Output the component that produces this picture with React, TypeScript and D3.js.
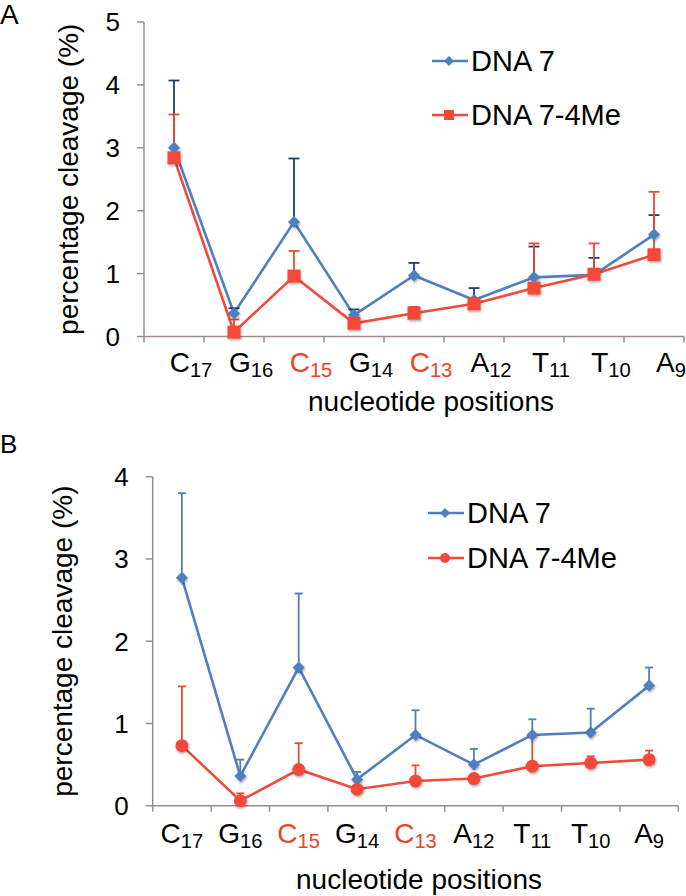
import React from 'react';
import * as d3 from 'd3';

// x categories: base letter + subscript position
const bases = ['C', 'G', 'C', 'G', 'C', 'A', 'T', 'T', 'A'];
const positions = ['17', '16', '15', '14', '13', '12', '11', '10', '9'];
const highlighted = ['15', '13'];

// panel A
const dna7A = [3.0, 0.37, 1.82, 0.34, 0.97, 0.58, 0.94, 0.98, 1.62];
const dna7ErrA = [1.07, 0.08, 1.01, 0.09, 0.2, 0.19, 0.49, 0.27, 0.31];
const dna74MeA = [2.84, 0.07, 0.96, 0.21, 0.37, 0.52, 0.77, 0.99, 1.3];
const dna74MeErrA = [0.69, 0.2, 0.4, 0.04, 0.1, 0.05, 0.71, 0.49, 1.0];
const ticksA = [0, 1, 2, 3, 4, 5];

// panel B
const dna7B = [2.77, 0.36, 1.68, 0.32, 0.86, 0.5, 0.86, 0.89, 1.46];
const dna7ErrB = [1.03, 0.2, 0.9, 0.09, 0.3, 0.19, 0.19, 0.29, 0.22];
const dna74MeB = [0.73, 0.06, 0.44, 0.2, 0.3, 0.33, 0.48, 0.52, 0.56];
const dna74MeErrB = [0.72, 0.09, 0.32, 0.03, 0.19, 0.04, 0.36, 0.08, 0.11];
const ticksB = [0, 1, 2, 3, 4];

const seriesNames = ['DNA 7', 'DNA 7-4Me'];

const BLUE = '#4f7fc0';
const RED = '#f24a3a';
const NAVY = '#1f3c78';
const AXIS = '#9a8c8a';
const FONT = '"Liberation Sans", Arial, Helvetica, sans-serif';

type PanelProps = {
  letter: string;
  letterY: number;
  letterSize: number;
  x0: number; x1: number; y0: number; yTop: number;
  yMax: number;
  ticks: number[];
  blue: number[]; blueErr: number[];
  red: number[]; redErr: number[];
  blueErrColor: string;
  redMarker: 'square' | 'circle';
  labelShift: number;
  catSize: number;
  labelY: number;
  titleY: number; titleX: number;
  yLabelX: number;
  legendX: number; legendY: number; legendGap: number;
  capW: number;
};

const Diamond = ({ x, y, r, fill }: { x: number; y: number; r: number; fill: string }) => (
  <path d={`M${x},${y - r}L${x + r},${y}L${x},${y + r}L${x - r},${y}Z`} fill={fill} />
);

const RedMark = ({ kind, x, y }: { kind: 'square' | 'circle'; x: number; y: number }) =>
  kind === 'square'
    ? <rect x={x - 6.5} y={y - 6.5} width={13} height={13} fill={RED} />
    : <circle cx={x} cy={y} r={6.5} fill={RED} />;

const Panel = (p: PanelProps) => {
  const x = d3.scaleBand<number>().domain(d3.range(bases.length)).range([p.x0, p.x1]);
  const y = d3.scaleLinear().domain([0, p.yMax]).range([p.y0, p.yTop]);
  const cx = (i: number) => (x(i) as number) + x.bandwidth() / 2;
  const line = d3.line<number>().x((_, i) => cx(i)).y(d => y(d));
  const bandEdges = d3.range(bases.length + 1).map(i => p.x0 + i * x.bandwidth());

  return (
    <g fontFamily={FONT}>
      <text x={0} y={p.letterY} fontSize={p.letterSize}>{p.letter}</text>

      {/* axes */}
      <line x1={p.x0} x2={p.x0} y1={y(p.yMax)} y2={p.y0} stroke={AXIS} strokeWidth={1.5} />
      <line x1={p.x0} x2={p.x1} y1={p.y0} y2={p.y0} stroke={AXIS} strokeWidth={1.5} />
      {p.ticks.map(t => (
        <g key={t}>
          <line x1={p.x0 - 7} x2={p.x0} y1={y(t)} y2={y(t)} stroke={AXIS} strokeWidth={1.5} />
          <text x={p.x0 - 24} y={y(t)} dy="0.36em" textAnchor="end" fontSize={26}>{t}</text>
        </g>
      ))}
      {bandEdges.map((e, i) => (
        <line key={i} x1={e} x2={e} y1={p.y0} y2={p.y0 + 6} stroke={AXIS} strokeWidth={1.5} />
      ))}
      {bases.map((b, i) => (
        <text key={i} x={cx(i) + p.labelShift} y={p.labelY} textAnchor="middle"
          fontSize={p.catSize} fill={highlighted.includes(positions[i]) ? '#ea4428' : '#000'}>
          {b}
          <tspan fontSize={p.catSize * 0.72} dy={5}>{positions[i]}</tspan>
        </text>
      ))}
      <text x={p.titleX} y={p.titleY} textAnchor="middle" fontSize={28}>nucleotide positions</text>
      <text transform={`translate(${p.yLabelX},${(y(p.yMax) + p.y0) / 2}) rotate(-90)`}
        textAnchor="middle" dy="0.35em" fontSize={28}>percentage cleavage (%)</text>

      {/* lines */}
      <path d={line(p.blue) || ''} fill="none" stroke={BLUE} strokeWidth={2.6} />
      <path d={line(p.red) || ''} fill="none" stroke={RED} strokeWidth={2.6} />

      {/* error bars */}
      {p.blue.map((v, i) => (
        <g key={'be' + i} stroke={p.blueErrColor} strokeWidth={1.8}>
          <line x1={cx(i)} x2={cx(i)} y1={y(v)} y2={y(v + p.blueErr[i])} />
          <line x1={cx(i) - p.capW / 2} x2={cx(i) + p.capW / 2} y1={y(v + p.blueErr[i])} y2={y(v + p.blueErr[i])} />
        </g>
      ))}
      {p.red.map((v, i) => (
        <g key={'re' + i} stroke="#ec4a2c" strokeWidth={1.8}>
          <line x1={cx(i)} x2={cx(i)} y1={y(v)} y2={y(v + p.redErr[i])} />
          <line x1={cx(i) - p.capW / 2} x2={cx(i) + p.capW / 2} y1={y(v + p.redErr[i])} y2={y(v + p.redErr[i])} />
        </g>
      ))}

      {/* markers */}
      <g filter="url(#shadow)">
        {p.blue.map((v, i) => <Diamond key={'bm' + i} x={cx(i)} y={y(v)} r={6} fill={BLUE} />)}
        {p.red.map((v, i) => <RedMark key={'rm' + i} kind={p.redMarker} x={cx(i)} y={y(v)} />)}
      </g>

      {/* legend */}
      <g fontSize={29}>
        <line x1={p.legendX} x2={p.legendX + 36} y1={p.legendY} y2={p.legendY} stroke={BLUE} strokeWidth={2.6} />
        <Diamond x={p.legendX + 17} y={p.legendY} r={5} fill={BLUE} />
        <text x={p.legendX + 39} y={p.legendY} dy="0.36em">{seriesNames[0]}</text>
        <line x1={p.legendX} x2={p.legendX + 36} y1={p.legendY + p.legendGap} y2={p.legendY + p.legendGap} stroke={RED} strokeWidth={2.6} />
        {p.redMarker === 'square'
          ? <rect x={p.legendX + 12} y={p.legendY + p.legendGap - 5} width={10} height={10} fill={RED} />
          : <circle cx={p.legendX + 17} cy={p.legendY + p.legendGap} r={5} fill={RED} />}
        <text x={p.legendX + 39} y={p.legendY + p.legendGap} dy="0.36em">{seriesNames[1]}</text>
      </g>
    </g>
  );
};

export default function App() {
  return (
    <svg width={686} height={896} style={{ position: 'absolute', left: 0, top: 0, background: '#fff' }}>
      <defs>
        <filter id="shadow" x="-50%" y="-50%" width="200%" height="200%">
          <feDropShadow dx={0.8} dy={1.5} stdDeviation={1.2} floodColor="#000" floodOpacity={0.35} />
        </filter>
      </defs>
      <Panel letter="A" letterY={24} letterSize={28} x0={144} x1={684} y0={336.5} yTop={22} yMax={5} ticks={ticksA}
        blue={dna7A} blueErr={dna7ErrA} red={dna74MeA} redErr={dna74MeErrA}
        blueErrColor={NAVY} redMarker="square" labelShift={17} catSize={28} labelY={372}
        titleX={431} titleY={411} yLabelX={68} legendX={432} legendY={61} legendGap={54} capW={11} />
      <Panel letter="B" letterY={453} letterSize={26} x0={152.7} x1={678.3} y0={805.7} yTop={476.7} yMax={4} ticks={ticksB}
        blue={dna7B} blueErr={dna7ErrB} red={dna74MeB} redErr={dna74MeErrB}
        blueErrColor={BLUE} redMarker="circle" labelShift={0} catSize={28} labelY={843}
        titleX={419} titleY={889} yLabelX={62} legendX={428} legendY={513} legendGap={45} capW={8} />
    </svg>
  );
}
